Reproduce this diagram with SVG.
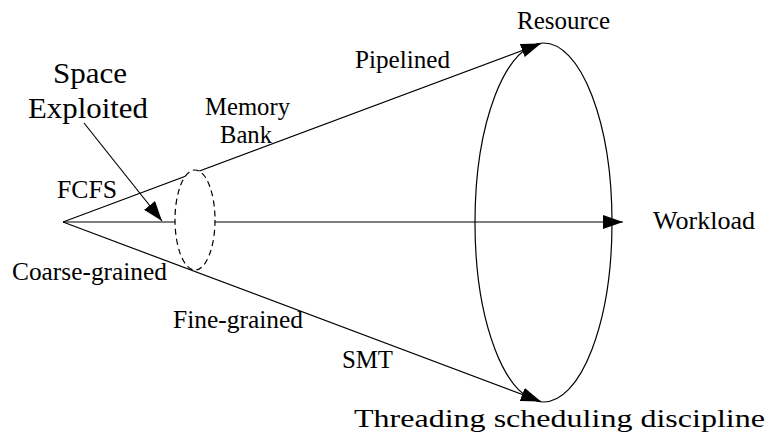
<svg xmlns="http://www.w3.org/2000/svg" width="770" height="434" viewBox="0 0 770 434">
<style>
.ln{stroke:#000;stroke-width:1.2;fill:none}
</style>
<defs>
<marker id="ah" markerUnits="userSpaceOnUse" markerWidth="22" markerHeight="16" refX="20" refY="7" orient="auto">
<path d="M0,0 L20,7 L0,14 z" fill="#000"/>
</marker>
</defs>
<rect width="770" height="434" fill="#fff"/>
<g id="connectors">
<line class="ln" x1="63" y1="222" x2="541" y2="43.5" marker-end="url(#ah)"/>
<line class="ln" x1="63" y1="222" x2="541" y2="401.5" marker-end="url(#ah)"/>
<line class="ln" x1="63" y1="222" x2="623" y2="222" stroke-width="1.8" marker-end="url(#ah)"/>
<line class="ln" x1="84" y1="123" x2="162" y2="221" marker-end="url(#ah)"/>
</g>
<g id="big-ellipse">
<ellipse class="ln" cx="543.5" cy="222.5" rx="68.5" ry="179.5"/>
</g>
<g id="small-ellipse">
<ellipse cx="195" cy="220" rx="20" ry="50" fill="#fff" stroke="#000" stroke-width="1.2" stroke-dasharray="6,4"/>
</g>
<g id="labels" font-family="Times New Roman, Liberation Serif, serif" font-size="25" fill="#000">
<text font-size="30" x="53" y="83" textLength="74" lengthAdjust="spacingAndGlyphs">Space</text>
<text font-size="30" x="28" y="118" textLength="120" lengthAdjust="spacingAndGlyphs">Exploited</text>
<text x="517" y="29" textLength="93" lengthAdjust="spacingAndGlyphs">Resource</text>
<text x="355" y="68" textLength="95" lengthAdjust="spacingAndGlyphs">Pipelined</text>
<text x="205" y="115" textLength="85" lengthAdjust="spacingAndGlyphs">Memory</text>
<text x="220" y="143" textLength="52" lengthAdjust="spacingAndGlyphs">Bank</text>
<text x="57" y="198" textLength="60" lengthAdjust="spacingAndGlyphs">FCFS</text>
<text x="653" y="229" textLength="102" lengthAdjust="spacingAndGlyphs">Workload</text>
<text x="12" y="280" textLength="155" lengthAdjust="spacingAndGlyphs">Coarse-grained</text>
<text x="173" y="328" textLength="130" lengthAdjust="spacingAndGlyphs">Fine-grained</text>
<text x="342" y="368" textLength="51" lengthAdjust="spacingAndGlyphs">SMT</text>
<text x="354" y="427" textLength="411" lengthAdjust="spacingAndGlyphs">Threading scheduling discipline</text>
</g>
</svg>
